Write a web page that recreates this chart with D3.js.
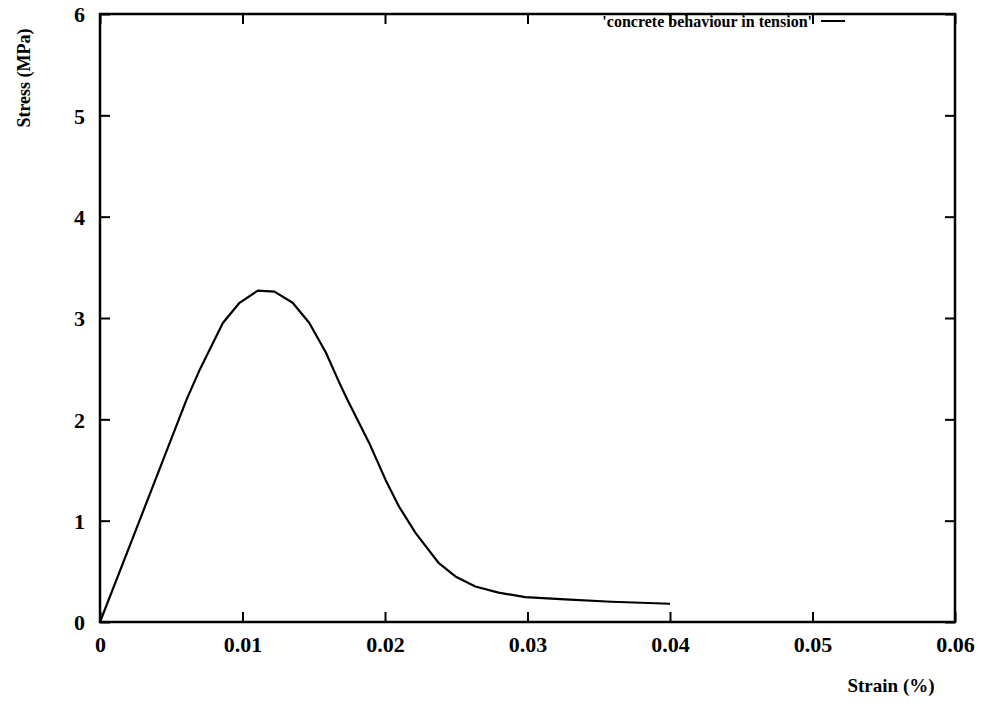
<!DOCTYPE html>
<html>
<head>
<meta charset="utf-8">
<script src="https://cdn.jsdelivr.net/npm/d3@7"></script>
<style>
	body { margin: 0; background: #fff; }
	text { font-family: "Liberation Serif", "DejaVu Serif", serif; font-weight: bold; fill: #000; }
</style>
</head>
<body>
<div id="chart"></div>
<script>

// strain (%) / stress (MPa)
var strain = [0, 0.00233, 0.0049, 0.00606, 0.007, 0.00862, 0.00979, 0.01107, 0.01224, 0.01352, 0.01469,
	0.01585, 0.0168, 0.01737, 0.01888, 0.02005, 0.02098, 0.02214, 0.02378, 0.02494, 0.02634, 0.02797,
	0.02984, 0.03263, 0.0359, 0.04];
var stress = [0, 0.84, 1.77, 2.19, 2.49, 2.95, 3.15, 3.27, 3.26, 3.15, 2.95,
	2.66, 2.36, 2.19, 1.77, 1.40, 1.14, 0.88, 0.58, 0.45, 0.35, 0.29,
	0.245, 0.224, 0.20, 0.18];

var xTicks = [0, 0.01, 0.02, 0.03, 0.04, 0.05, 0.06];
var yTicks = [0, 1, 2, 3, 4, 5, 6];
var xTickLabels = ["0", "0.01", "0.02", "0.03", "0.04", "0.05", "0.06"];
var yTickLabels = ["0", "1", "2", "3", "4", "5", "6"];
var seriesName = "'concrete behaviour in tension'";


var margins = {top: 14, bottom: 82, left: 100, right: 35},
	W = 990, H = 704,
	width = W - margins.left - margins.right,
	height = H - margins.top - margins.bottom;

var x = d3.scaleLinear().domain([0, 0.06]).range([0, width]);
var y = d3.scaleLinear().domain([0, 6]).range([height, 0]);

var svg = d3.select("#chart")
	.append("svg")
		.attr("width", W)
		.attr("height", H)
	.append("g")
		.attr("transform", "translate(" + margins.left + "," + margins.top + ")");

// ticks point inward on all four sides (gnuplot style)
var tick = 10;

svg.append("g")
	.attr("class", "x axis")
	.attr("transform", "translate(0," + height + ")")
	.call(d3.axisBottom(x).tickValues(xTicks).tickSizeInner(-tick).tickSizeOuter(0).tickPadding(14)
		.tickFormat(function(d, i) { return xTickLabels[i]; }));

svg.append("g")
	.attr("class", "x axis top")
	.call(d3.axisTop(x).tickValues(xTicks).tickSizeInner(-tick).tickSizeOuter(0).tickFormat(""));

svg.append("g")
	.attr("class", "y axis left")
	.call(d3.axisLeft(y).tickValues(yTicks).tickSizeInner(-tick).tickSizeOuter(0).tickPadding(15)
		.tickFormat(function(d, i) { return yTickLabels[i]; }));

svg.append("g")
	.attr("class", "y axis right")
	.attr("transform", "translate(" + width + ",0)")
	.call(d3.axisRight(y).tickValues(yTicks).tickSizeInner(-tick).tickSizeOuter(0).tickFormat(""));

svg.selectAll(".axis path.domain").remove();
svg.selectAll(".axis line").attr("stroke", "#000").attr("stroke-width", 2);
svg.selectAll(".x.axis text").style("font-size", "22px");
svg.selectAll(".y.axis text").style("font-size", "22px").attr("dy", "0.35em");

// frame
svg.append("rect")
	.attr("x", 0).attr("y", 0)
	.attr("width", width).attr("height", height)
	.attr("fill", "none")
	.attr("stroke", "#000")
	.attr("stroke-width", 2.5);

// curve
var line = d3.line()
	.x(function(d) { return x(d[0]); })
	.y(function(d) { return y(d[1]); });

svg.append("path")
	.datum(d3.zip(strain, stress))
	.attr("fill", "none")
	.attr("stroke", "#000")
	.attr("stroke-width", 2.2)
	.attr("stroke-linejoin", "round")
	.attr("d", line);

// legend
var legend = svg.append("g").attr("transform", "translate(" + (width - 143) + ",7)");
legend.append("text")
	.attr("text-anchor", "end")
	.attr("dy", "0.35em")
	.style("font-size", "16px")
	.text(seriesName);
legend.append("line")
	.attr("x1", 9).attr("x2", 33)
	.attr("y1", 0).attr("y2", 0)
	.attr("stroke", "#000")
	.attr("stroke-width", 2);

// axis titles
svg.append("text")
	.attr("x", width - 64)
	.attr("y", height + 70)
	.attr("text-anchor", "middle")
	.style("font-size", "19px")
	.text("Strain (%)");

svg.append("text")
	.attr("transform", "translate(" + (24 - margins.left) + "," + (78 - margins.top) + ") rotate(-90)")
	.attr("text-anchor", "middle")
	.attr("dy", "0.35em")
	.style("font-size", "18px")
	.text("Stress (MPa)");

</script>
</body>
</html>
